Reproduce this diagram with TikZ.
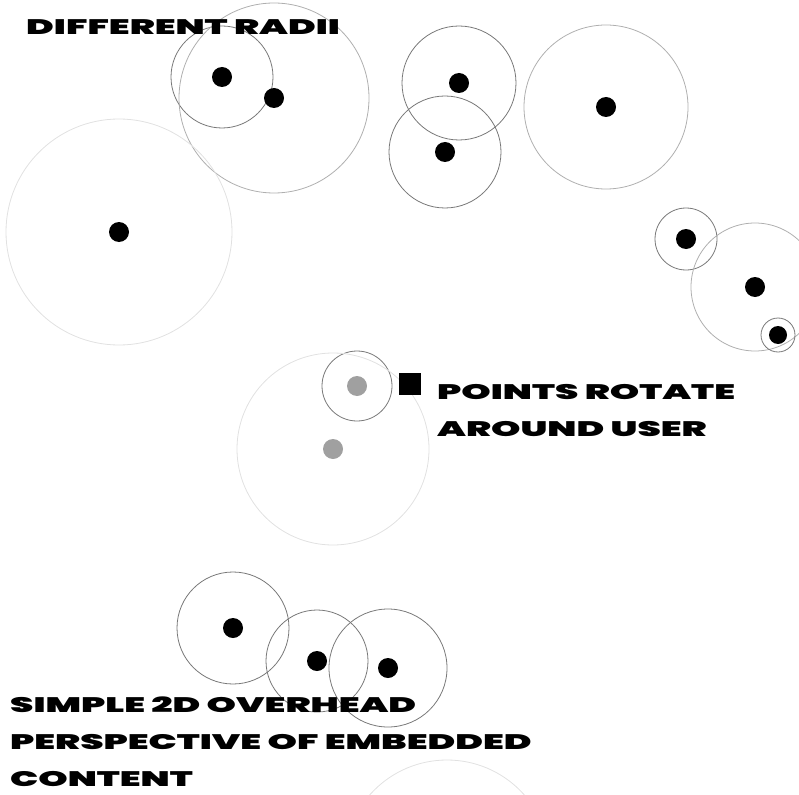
\documentclass[tikz,border=0pt]{standalone}
\usepackage{fontspec}
\usepackage{tikz}
\usetikzlibrary{positioning}
\newfontfamily\widefont{Poppins}[FakeStretch=1.78, BoldFont={Poppins Black}]
\definecolor{ringdark}{RGB}{120,120,120}
\definecolor{ringmid}{RGB}{175,175,175}
\definecolor{ringfaint}{RGB}{225,225,225}
\definecolor{userdot}{RGB}{160,160,160}

\tikzset{
  pt/.style={circle, fill=black, inner sep=0pt, minimum size=20pt},
  ghost/.style={pt, fill=userdot},
  ring/.style={circle, draw=ringdark, line width=0.8pt, inner sep=0pt, minimum size=#1},
  caption/.style={anchor=base west, inner sep=0pt, align=left,
    font=\widefont\bfseries\fontsize{21}{37}\selectfont}
}

\begin{document}
\begin{tikzpicture}[x=1pt, y=-1pt]
  \useasboundingbox (0,0) rectangle (799,794);
  \clip (0,0) rectangle (799,794);
  % different radii, top row
  \node[pt] (p1) at (222,77) {};  \node[ring=102pt] (r1) at (p1) {};
  \node[pt] (p2) at (274,98) {};  \node[ring=190pt, draw=ringmid] (r2) at (p2) {};
  \node[pt] (p3) at (119,232) {}; \node[ring=226pt, draw=ringfaint] (r3) at (p3) {};
  \node[pt] (p4) at (459,83) {};  \node[ring=114pt] (r4) at (p4) {};
  \node[pt] (p5) at (445,152) {}; \node[ring=112pt] (r5) at (p5) {};
  \node[pt] (p6) at (606,107) {}; \node[ring=164pt, draw=ringmid] (r6) at (p6) {};
  \node[pt] (p7) at (686,239) {}; \node[ring=62pt] (r7) at (p7) {};
  \node[pt] (p8) at (755,287) {}; \node[ring=128pt, draw=ringmid] (r8) at (p8) {};
  \node[pt, minimum size=18pt] (p9) at (778,335) {}; \node[ring=34pt] (r9) at (p9) {};
  % user in the middle
  \node[ghost] (g1) at (357,386) {}; \node[ring=70pt] (q1) at (g1) {};
  \node[ghost] (g2) at (333,449) {}; \node[ring=192pt, draw=ringfaint] (q2) at (g2) {};
  \node[fill=black, inner sep=0pt, minimum size=22pt] (user) at (410,384) {};
  % bottom row
  \node[pt] (b1) at (233,628) {}; \node[ring=112pt] (s1) at (b1) {};
  \node[pt] (b2) at (317,661) {}; \node[ring=102pt] (s2) at (b2) {};
  \node[pt] (b3) at (388,668) {}; \node[ring=118pt] (s3) at (b3) {};
  \node[ring=206pt, draw=ringfaint] (s4) at (447,863) {};
  % captions (anchored at the last line)
  \node[caption] (radii) at (26,35) {DIFFERENT RADII};
  \node[caption] (rotate) at (437,436) {POINTS ROTATE\\AROUND USER};
  \node[caption] (overhead) at (10,786) {SIMPLE 2D OVERHEAD\\PERSPECTIVE OF EMBEDDED\\CONTENT};
\end{tikzpicture}
\end{document}
